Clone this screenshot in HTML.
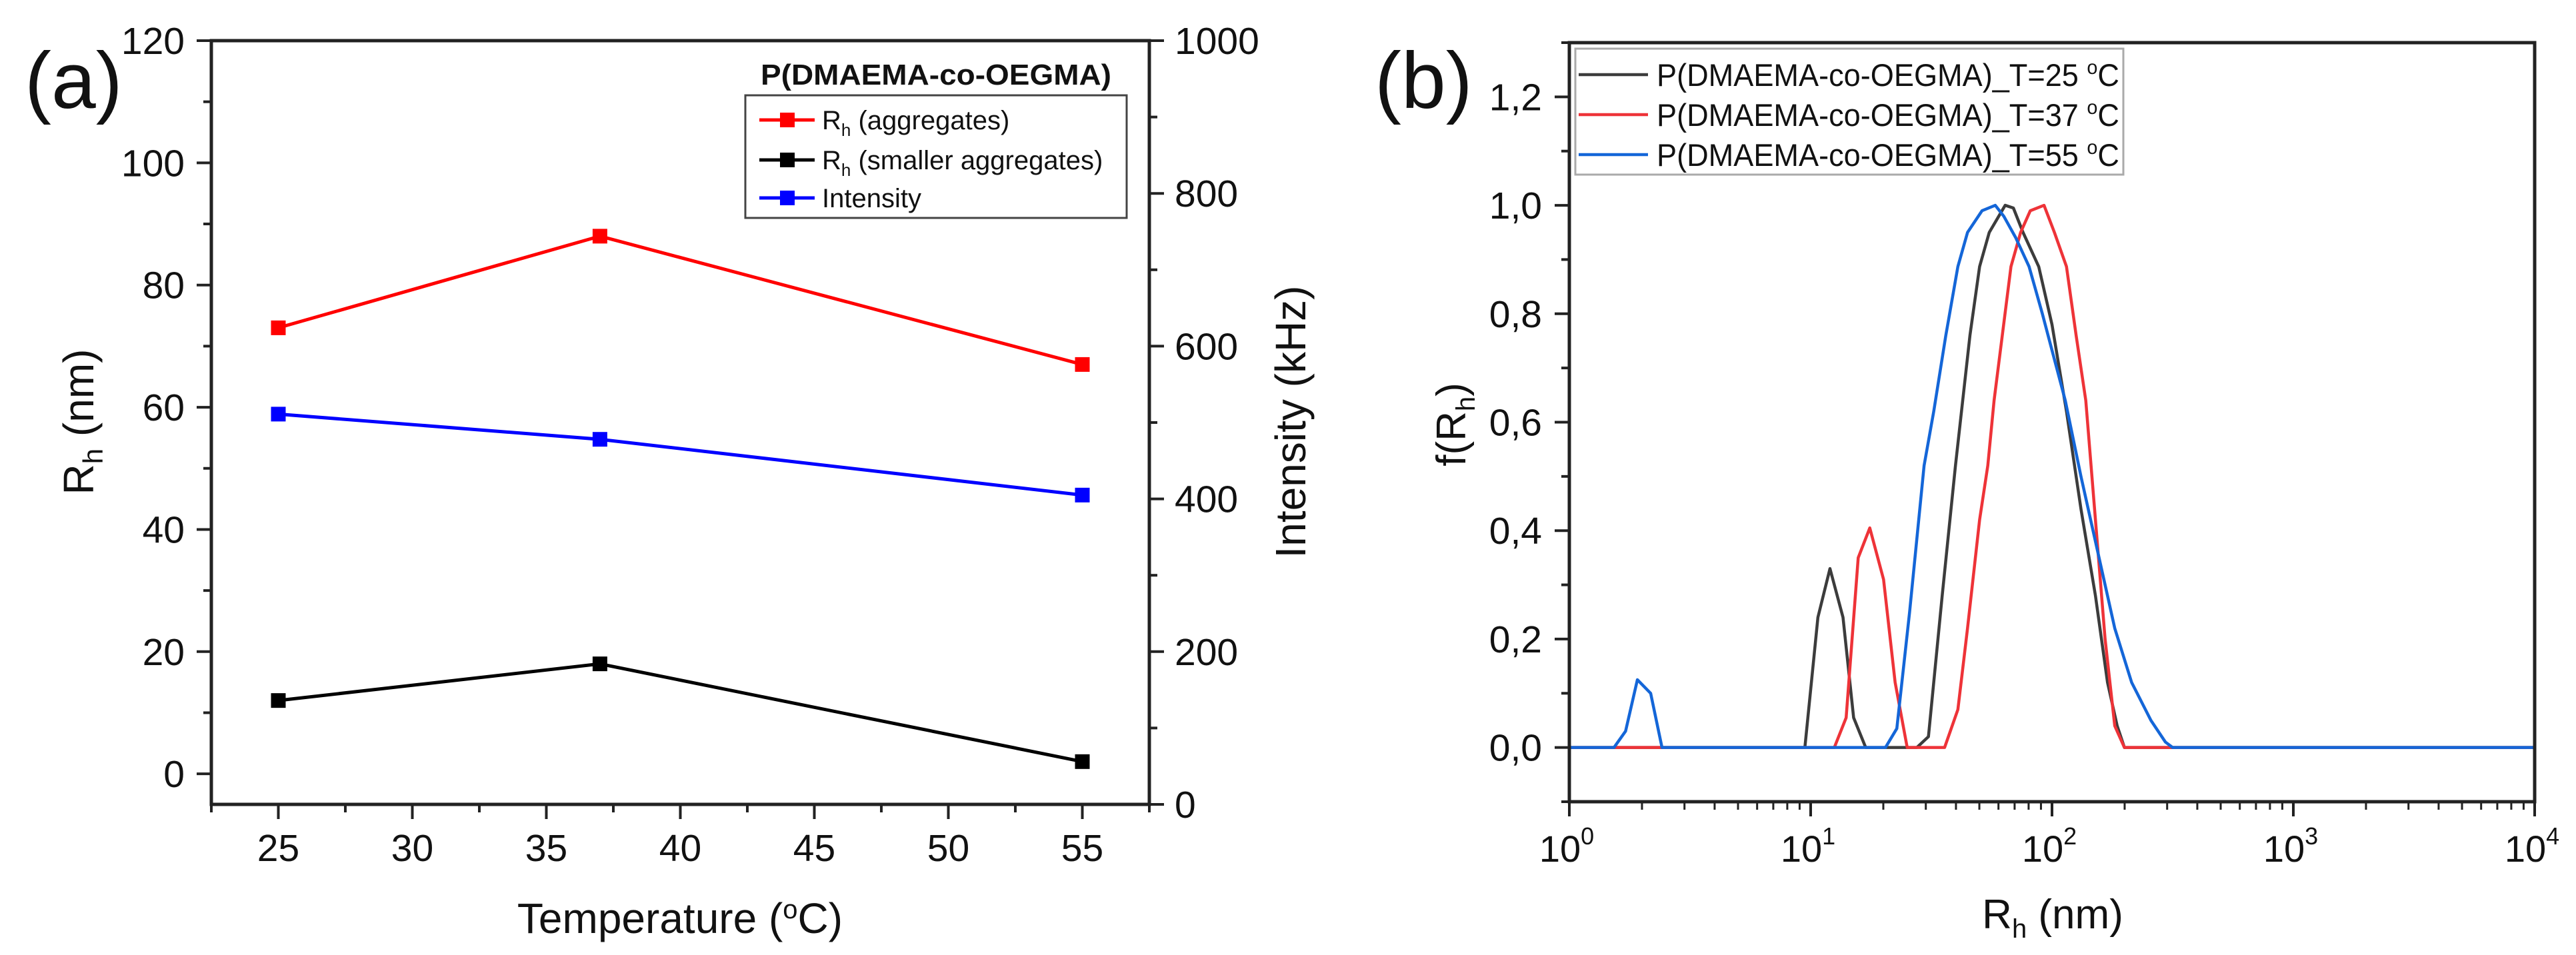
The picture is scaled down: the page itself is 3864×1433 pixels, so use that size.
<!DOCTYPE html>
<html><head><meta charset="utf-8">
<style>
html,body{margin:0;padding:0;background:#fff;}
svg{display:block;font-family:"Liberation Sans",Arial,sans-serif;}
</style></head>
<body>
<svg id="fig" width="3864" height="1433" viewBox="0 0 3864 1433" xmlns="http://www.w3.org/2000/svg">
<rect x="0" y="0" width="3864" height="1433" fill="#fff"/>
<g id="pa"></g>
<g id="pb"></g>
</svg>
<script>
// ---------- Panel (a) data ----------
const tempsA = [25, 37, 55];
const rhAggregates = [73, 88, 67];
const rhSmaller = [12, 18, 2];
const intensity = [511, 478, 405];
const xTicksA = [25, 30, 35, 40, 45, 50, 55];
const yTicksLeftA = [0, 20, 40, 60, 80, 100, 120];
const yTicksRightA = [0, 200, 400, 600, 800, 1000];

// ---------- Panel (b) data (log10 Rh, f(Rh)) ----------
const lgRh25 = [0, 0.976, 1.03, 1.08, 1.134, 1.178, 1.228, 1.44, 1.488, 1.545, 1.60, 1.63, 1.66, 1.70, 1.74, 1.806, 1.84, 1.88, 1.945, 2.00, 2.06, 2.12, 2.18, 2.23, 2.27, 2.30, 4];
const f25   = [0, 0,     0.24, 0.33, 0.24,  0.055, 0,     0,    0.02,  0.28,  0.52, 0.64, 0.76, 0.887,0.95, 1.0,   0.995,0.95, 0.887, 0.78, 0.62, 0.44, 0.28, 0.12, 0.04, 0, 0];
const lgRh37 = [0, 1.098, 1.147, 1.197, 1.245, 1.302, 1.35, 1.40, 1.555, 1.61, 1.65, 1.70, 1.734, 1.76, 1.83, 1.87, 1.91, 1.967, 2.01, 2.06, 2.10, 2.14, 2.18, 2.22, 2.26, 2.30, 4];
const f37   = [0, 0,     0.055, 0.35,  0.405, 0.31,  0.12, 0,    0,     0.07, 0.22, 0.42, 0.52,  0.64, 0.887,0.95, 0.99, 1.0,   0.95, 0.887,0.76, 0.64, 0.42, 0.2,  0.04, 0, 0];
const lgRh55 = [0, 0.185, 0.233, 0.282, 0.337, 0.384, 1.31, 1.357, 1.41, 1.47, 1.51, 1.56, 1.61, 1.65, 1.71, 1.765, 1.80, 1.85, 1.905, 1.96, 2.055, 2.12, 2.19, 2.26, 2.33, 2.41, 2.47, 2.50, 4];
const f55   = [0, 0,     0.03,  0.125, 0.10,  0,     0,    0.035, 0.25, 0.52, 0.62, 0.76, 0.887,0.95, 0.99, 1.0,   0.98, 0.94, 0.887, 0.8,  0.64,  0.5,  0.36, 0.22, 0.12, 0.05, 0.01, 0, 0];
const xTicksB = [0, 1, 2, 3, 4];
const yTicksB = [0, 0.2, 0.4, 0.6, 0.8, 1.0, 1.2];

const NS = "http://www.w3.org/2000/svg";
function mk(parent, tag, attrs, text) {
  const el = document.createElementNS(NS, tag);
  for (const k in attrs) el.setAttribute(k, attrs[k]);
  if (text !== undefined) el.textContent = text;
  parent.appendChild(el);
  return el;
}

// ================= Panel A =================
const pa = document.getElementById('pa');
const A = {l: 317, r: 1724, t: 61, b: 1207};
const xA = v => A.l + (v - 22.5) / 35 * (A.r - A.l);
const yL = v => A.b - (v + 5) / 125 * (A.b - A.t);
const yR = v => A.b - v / 1000 * (A.b - A.t);

let e;
e = mk(pa, 'text', {x: 37, y: 162, 'font-size': 120, fill: '#111'}, '(a)');



// frame
e = mk(pa, 'rect', {x: A.l, y: A.t, width: A.r - A.l, height: A.b - A.t, fill: 'none', stroke: '#222', 'stroke-width': 5});



// x ticks
for (let v = 22.5; v <= 57.51; v += 2.5) {
  const major = xTicksA.includes(Math.round(v * 10) / 10);
  e = mk(pa, 'line', {x1: xA(v), x2: xA(v), y1: A.b, y2: A.b + (major ? 22 : 12), stroke: '#222', 'stroke-width': 4});
  
  
}
xTicksA.forEach(v => {
  e = mk(pa, 'text', {x: xA(v), y: 1292, 'font-size': 57, 'text-anchor': 'middle', fill: '#111'}, String(v));
  
  
});
// left ticks
for (let v = 0; v <= 120; v += 10) {
  const major = v % 20 === 0;
  e = mk(pa, 'line', {x1: A.l, x2: A.l - (major ? 22 : 12), y1: yL(v), y2: yL(v), stroke: '#222', 'stroke-width': 4});
  
  
}
yTicksLeftA.forEach(v => {
  e = mk(pa, 'text', {x: 277, y: yL(v) + 20, 'font-size': 57, 'text-anchor': 'end', fill: '#111'}, String(v));
  
  
});
// right ticks
for (let v = 0; v <= 1000; v += 100) {
  const major = v % 200 === 0;
  e = mk(pa, 'line', {x1: A.r, x2: A.r + (major ? 22 : 12), y1: yR(v), y2: yR(v), stroke: '#222', 'stroke-width': 4});
  
  
}
yTicksRightA.forEach(v => {
  e = mk(pa, 'text', {x: 1762, y: yR(v) + 20, 'font-size': 57, 'text-anchor': 'start', fill: '#111'}, String(v));
  
  
});
// axis titles
e = mk(pa, 'text', {x: 1020, y: 1400, 'font-size': 64, 'text-anchor': 'middle', fill: '#111'});
e.innerHTML = 'Temperature (<tspan dy="-22" font-size="40">o</tspan><tspan dy="22">C)</tspan>';


e = mk(pa, 'text', {x: 0, y: 0, 'font-size': 64, 'text-anchor': 'middle', fill: '#111', transform: 'translate(140,633) rotate(-90)'});
e.innerHTML = 'R<tspan dy="14" font-size="42">h</tspan><tspan dy="-14"> (nm)</tspan>';


e = mk(pa, 'text', {x: 0, y: 0, 'font-size': 64, 'text-anchor': 'middle', fill: '#111', transform: 'translate(1958,633) rotate(-90)'}, 'Intensity (kHz)');



// series
function seriesA(vals, yfn, color, name) {
  const pts = tempsA.map((t, i) => xA(t) + ',' + yfn(vals[i])).join(' ');
  e = mk(pa, 'polyline', {points: pts, fill: 'none', stroke: color, 'stroke-width': 5});
  
  
  tempsA.forEach((t, i) => {
    e = mk(pa, 'rect', {x: xA(t) - 11, y: yfn(vals[i]) - 11, width: 22, height: 22, fill: color});
    
    
  });
}
seriesA(rhAggregates, yL, '#ff0000', 'rh-aggregates');
seriesA(rhSmaller, yL, '#000000', 'rh-smaller-aggregates');
seriesA(intensity, yR, '#0000ff', 'intensity');

// legend A
e = mk(pa, 'text', {x: 1404, y: 127, 'font-size': 44, 'font-weight': 'bold', 'text-anchor': 'middle', fill: '#111', textLength: 526, lengthAdjust: 'spacingAndGlyphs'}, 'P(DMAEMA-co-OEGMA)');


e = mk(pa, 'rect', {x: 1118, y: 143, width: 572, height: 184, fill: '#fff', stroke: '#444', 'stroke-width': 3});


const legA = [['#ff0000', '(aggregates)', 180, 'legend-entry-aggregates', 294], ['#000000', '(smaller aggregates)', 240, 'legend-entry-smaller', 414], ['#0000ff', null, 297, 'legend-entry-intensity', 155]];
legA.forEach(([c, t, y, n, w]) => {
  e = mk(pa, 'line', {x1: 1139, x2: 1222, y1: y, y2: y, stroke: c, 'stroke-width': 5});
  
  
  e = mk(pa, 'rect', {x: 1170, y: y - 11, width: 22, height: 22, fill: c});
  
  
  e = mk(pa, 'text', {x: 1233, y: y + 14, 'font-size': 40, fill: '#111'});
  if (t) e.innerHTML = 'R<tspan dy="10" font-size="26">h</tspan><tspan dy="-10"> ' + t + '</tspan>';
  else e.textContent = 'Intensity';
  
  
});

// ================= Panel B =================
const pb = document.getElementById('pb');
const B = {l: 2354, r: 3802, t: 64, b: 1203};
const xB = L => B.l + L / 4 * (B.r - B.l);
const yB = v => B.b - (v + 0.1) / 1.4 * (B.b - B.t);

e = mk(pb, 'text', {x: 2062, y: 162, 'font-size': 120, fill: '#111'}, '(b)');



// curves
function curveB(xs, ys, color, name) {
  const pts = xs.map((L, i) => xB(L) + ',' + yB(ys[i])).join(' ');
  e = mk(pb, 'polyline', {points: pts, fill: 'none', stroke: color, 'stroke-width': 4.5, 'stroke-linejoin': 'round'});
  
  
}
curveB(lgRh25, f25, '#3c3c3c', 'curve-t25');
curveB(lgRh37, f37, '#ee3338', 'curve-t37');
curveB(lgRh55, f55, '#1466d8', 'curve-t55');

e = mk(pb, 'rect', {x: B.l, y: B.t, width: B.r - B.l, height: B.b - B.t, fill: 'none', stroke: '#222', 'stroke-width': 5});



// x log ticks
for (let d = 0; d < 4; d++) {
  for (let m = 2; m <= 9; m++) {
    const L = d + Math.log10(m);
    e = mk(pb, 'line', {x1: xB(L), x2: xB(L), y1: B.b, y2: B.b + 12, stroke: '#222', 'stroke-width': 3});
    
    
  }
}
xTicksB.forEach(L => {
  e = mk(pb, 'line', {x1: xB(L), x2: xB(L), y1: B.b, y2: B.b + 22, stroke: '#222', 'stroke-width': 4});
  
  
  e = mk(pb, 'text', {x: xB(L) - 4, y: 1293, 'font-size': 56, 'text-anchor': 'middle', fill: '#111'});
  e.innerHTML = '10<tspan dy="-26" font-size="36">' + L + '</tspan>';
  
  
});
// y ticks
for (let k = -1; k <= 13; k++) {
  const v = k / 10;
  const major = k % 2 === 0;
  e = mk(pb, 'line', {x1: B.l, x2: B.l - (major ? 22 : 12), y1: yB(v), y2: yB(v), stroke: '#222', 'stroke-width': 4});
  
  
}
yTicksB.forEach(v => {
  e = mk(pb, 'text', {x: 2313, y: yB(v) + 20, 'font-size': 57, 'text-anchor': 'end', fill: '#111'}, v.toFixed(1).replace('.', ','));
  
  
});
e = mk(pb, 'text', {x: 3079, y: 1393, 'font-size': 62, 'text-anchor': 'middle', fill: '#111'});
e.innerHTML = 'R<tspan dy="14" font-size="40">h</tspan><tspan dy="-14"> (nm)</tspan>';


e = mk(pb, 'text', {x: 0, y: 0, 'font-size': 62, 'text-anchor': 'middle', fill: '#111', transform: 'translate(2198,637) rotate(-90)'});
e.innerHTML = 'f(R<tspan dy="14" font-size="40">h</tspan><tspan dy="-14">)</tspan>';



// legend B
e = mk(pb, 'rect', {x: 2363, y: 73, width: 822, height: 189, fill: '#fff', stroke: '#aaa', 'stroke-width': 3});


const legB = [['#3c3c3c', '25', 112, 'legend-entry-t25'], ['#ee3338', '37', 172, 'legend-entry-t37'], ['#1466d8', '55', 232, 'legend-entry-t55']];
legB.forEach(([c, t, y, n]) => {
  e = mk(pb, 'line', {x1: 2368, x2: 2472, y1: y, y2: y, stroke: c, 'stroke-width': 4.5});
  
  
  e = mk(pb, 'text', {x: 2485, y: y + 17, 'font-size': 47, fill: '#111', textLength: 694, lengthAdjust: 'spacingAndGlyphs'});
  e.innerHTML = 'P(DMAEMA-co-OEGMA)_T=' + t + ' <tspan dy="-18" font-size="30">o</tspan><tspan dy="18">C</tspan>';
  
  
});
</script>
</body></html>
